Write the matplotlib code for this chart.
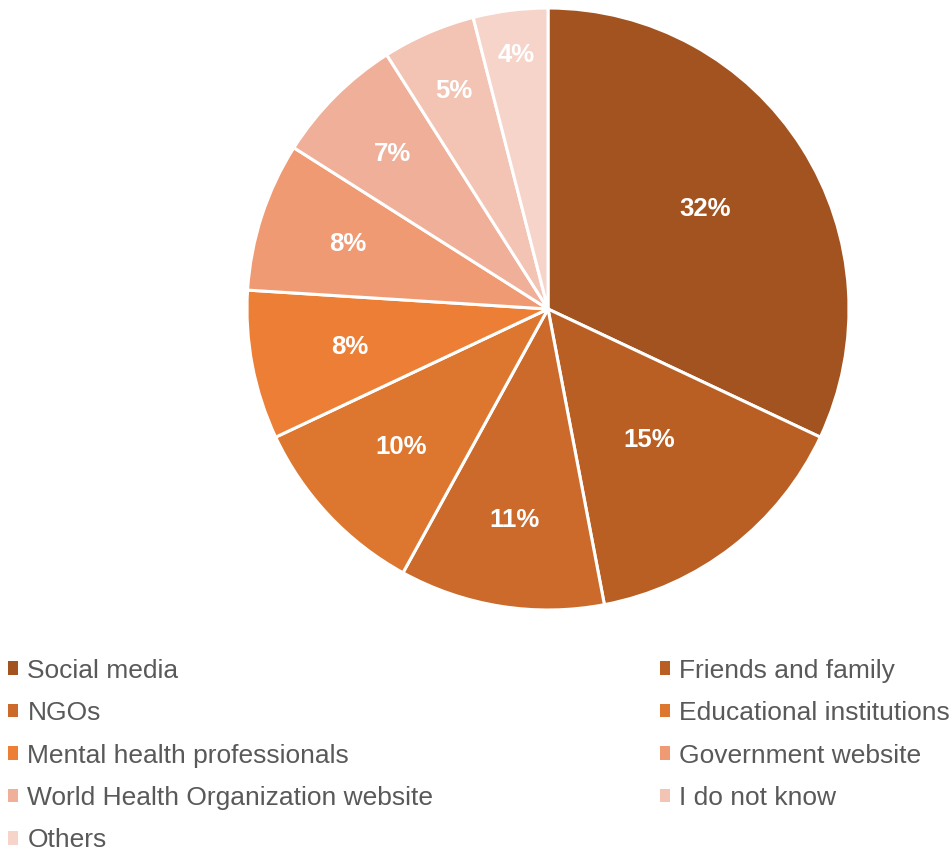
import numpy as np
import matplotlib.pyplot as plt

plt.rcParams['font.family'] = ['Liberation Sans', 'DejaVu Sans']

sources = ["Social media", "Friends and family", "NGOs", "Educational institutions",
           "Mental health professionals", "Government website",
           "World Health Organization website", "I do not know", "Others"]
shares = [32, 15, 11, 10, 8, 8, 7, 5, 4]
colors = ["#A3531F", "#B95F23", "#CB6A2A", "#DD762F", "#EC7E35",
          "#EF9A72", "#F0AF98", "#F3C3B3", "#F6D4CA"]

# how far out each percentage sits (fraction of radius); thin slices push labels outward
label_r = [0.62, 0.55, 0.71, 0.67, 0.67, 0.70, 0.73, 0.79, 0.85]

fig = plt.figure(figsize=(9.52, 8.52), dpi=100)
ax = fig.add_axes([247 / 952, 242 / 852, 602 / 952, 602 / 852])

wedges, _ = ax.pie(
    shares, colors=colors, startangle=90, counterclock=False, radius=1,
    wedgeprops=dict(edgecolor="white", linewidth=2.2),
)
ax.set_xlim(-1.0, 1.0)
ax.set_ylim(-1.0, 1.0)
ax.set_aspect("equal")

for w, v, r in zip(wedges, shares, label_r):
    mid = np.deg2rad((w.theta1 + w.theta2) / 2)
    ax.text(r * np.cos(mid), r * np.sin(mid), f"{v}%", color="white",
            fontsize=18.5, fontweight="bold", ha="center", va="center")

# legend reads row by row: two columns, left column gets the even entries
order = list(range(0, len(sources), 2)) + list(range(1, len(sources), 2))
leg = fig.legend([wedges[i] for i in order], [sources[i] for i in order],
                 ncol=2, loc="upper left",
                 bbox_to_anchor=(0.008, 0.0, 0.99, 0.227), mode="expand",
                 frameon=False, fontsize=19, labelcolor="#595959",
                 handlelength=0.4, handleheight=0.4, handletextpad=0.35,
                 labelspacing=0.7, borderaxespad=0, borderpad=0)
for h in leg.legend_handles:
    h.set_edgecolor("none")

fig.savefig("out.png", dpi=100)
